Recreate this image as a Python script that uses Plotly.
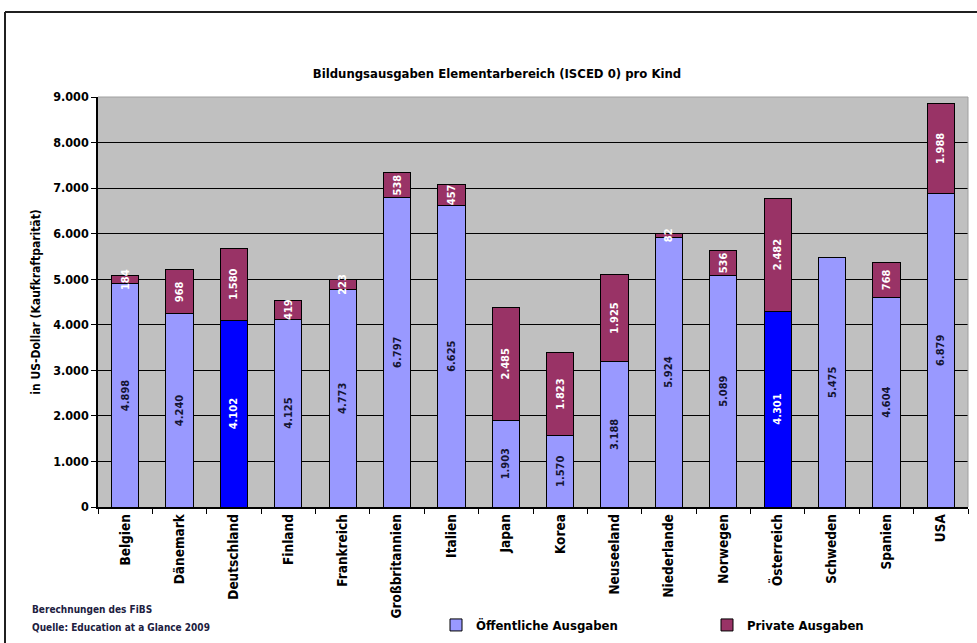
import plotly.graph_objects as go

countries = ["Belgien", "Dänemark", "Deutschland", "Finland", "Frankreich", "Großbritannien",
             "Italien", "Japan", "Korea", "Neuseeland", "Niederlande", "Norwegen",
             "Österreich", "Schweden", "Spanien", "USA"]
public = [4898, 4240, 4102, 4125, 4773, 6797, 6625, 1903, 1570, 3188, 5924, 5089, 4301, 5475, 4604, 6879]
private = [184, 968, 1580, 419, 223, 538, 457, 2485, 1823, 1925, 82, 536, 2482, 0, 768, 1988]
highlight = ["Deutschland", "Österreich"]

C_PUB = "#9999FF"
C_HI = "#0000FF"
C_PRIV = "#993366"
FONT = "DejaVu Sans Condensed, Open Sans, sans-serif"

def fmt(v):
    return f"{v:,}".replace(",", ".")

pub_colors = [C_HI if c in highlight else C_PUB for c in countries]
pub_text_colors = ["white" if c in highlight else "#141433" for c in countries]

fig = go.Figure()
fig.add_trace(go.Bar(
    x=countries, y=public, name="Öffentliche Ausgaben",
    marker=dict(color=pub_colors, line=dict(color="black", width=1)),
    text=[fmt(v) for v in public], textposition="inside", insidetextanchor="middle",
    textangle=-90, textfont=dict(family=FONT, size=11, color=pub_text_colors, weight="bold"),
    constraintext="none", width=0.5,
))
fig.add_trace(go.Bar(
    x=countries, y=private, name="Private Ausgaben",
    marker=dict(color=C_PRIV, line=dict(color="black", width=1)),
    text=[fmt(v) if v > 0 else "" for v in private], textposition="inside", insidetextanchor="middle",
    textangle=-90, textfont=dict(family=FONT, size=11, color="white", weight="bold"),
    constraintext="none", width=0.5,
))

fig.update_layout(
    barmode="stack",
    width=977, height=643,
    margin=dict(l=98, r=9, t=97, b=136, autoexpand=False),
    paper_bgcolor="white",
    plot_bgcolor="#C0C0C0",
    separators=",.",
    uniformtext=dict(minsize=11, mode="show"),
    font=dict(family=FONT, color="black"),
    title=dict(text="Bildungsausgaben Elementarbereich (ISCED 0) pro Kind",
               x=497 / 977, xanchor="center", xref="container", y=1 - 73 / 643, yanchor="middle",
               font=dict(family=FONT, size=13, color="black", weight="bold")),
    showlegend=True,
    legend=dict(orientation="h", x=(436 - 98) / 870, y=-(625 - 507) / 410, xanchor="left", yanchor="middle",
                font=dict(family=FONT, size=13, color="black", weight="bold"),
                entrywidth=226, entrywidthmode="pixels", traceorder="normal",
                bgcolor="rgba(0,0,0,0)"),
    bargap=0.5,
)
fig.update_yaxes(
    range=[0, 9000], dtick=1000, tickformat=",d",
    showgrid=True, gridcolor="black", gridwidth=1,
    showline=True, linecolor="black", linewidth=1.5,
    ticks="outside", ticklen=5, tickcolor="black",
    tickfont=dict(family=FONT, size=12.5, color="black", weight="bold"),
    title=dict(text="in US-Dollar (Kaufkraftparität)", standoff=10,
               font=dict(family=FONT, size=12, color="black", weight="bold")),
    zeroline=False,
)
fig.update_xaxes(
    showline=True, linecolor="black", linewidth=1.5,
    ticks="outside", ticklen=5, tickcolor="black", tickson="boundaries",
    tickangle=-90,
    tickfont=dict(family=FONT, size=13.5, color="black", weight="bold"),
    range=[-0.5, 15.5],
)

# right and top plot edges (light)
fig.add_shape(type="line", xref="paper", yref="paper", x0=0, x1=1, y0=1, y1=1,
              line=dict(color="#A0A0A0", width=1))
fig.add_shape(type="line", xref="paper", yref="paper", x0=1, x1=1, y0=0, y1=1,
              line=dict(color="#A0A0A0", width=1))

# outer frame lines
fx0 = (5 - 98) / 870
fy1 = (507 - 12) / 410
fig.add_shape(type="line", xref="paper", yref="paper", x0=fx0, x1=1.05, y0=fy1, y1=fy1,
              line=dict(color="#202020", width=2))
fig.add_shape(type="line", xref="paper", yref="paper", x0=fx0, x1=fx0, y0=fy1, y1=-0.5,
              line=dict(color="#202020", width=2))

# footer
for txt, py in [("Berechnungen des FiBS", 609), ("Quelle: Education at a Glance 2009", 627)]:
    fig.add_annotation(text=txt, xref="paper", yref="paper", x=(30 - 98) / 870, y=-(py - 507) / 410,
                       xanchor="left", yanchor="middle", align="left", showarrow=False,
                       font=dict(family=FONT, size=10, color="#202040", weight="bold"))

fig.write_html("out.html")
